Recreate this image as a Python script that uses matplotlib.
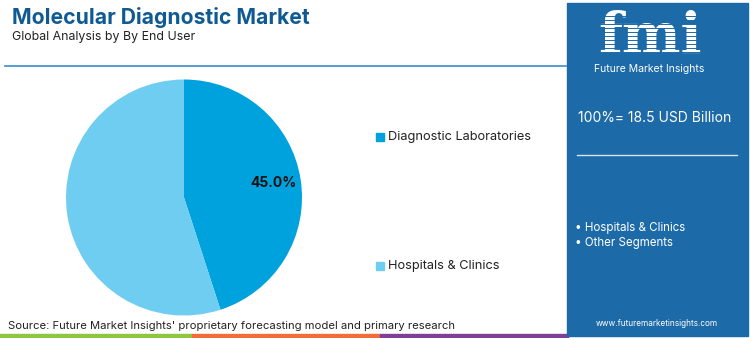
import matplotlib
matplotlib.use("Agg")
import matplotlib.pyplot as plt
from matplotlib.patches import Rectangle
from matplotlib.lines import Line2D

plt.rcParams['font.family'] = ['Inter', 'DejaVu Sans']

# data
segments = ['Diagnostic Laboratories', 'Hospitals & Clinics']
shares = [45.0, 55.0]
colors = ['#00a2dd', '#6fcdf1']
total_label = '100%= 18.5 USD Billion'
panel_items = ['Hospitals & Clinics', 'Other Segments']

W, H = 750, 338
fig = plt.figure(figsize=(7.5, 3.38), dpi=100)
fig.patch.set_facecolor('white')


def fx(x):
    return x / W


def fy(y):
    return 1 - y / H


# title block
fig.text(fx(12), fy(17), 'Molecular Diagnostic Market', fontsize=15.2, fontweight='bold',
         color='#0f5a93', va='center', ha='left')
fig.text(fx(12), fy(37), 'Global Analysis by By End User', fontsize=8.9, color='#222222',
         va='center', ha='left')
fig.add_artist(Line2D([fx(5), fx(566)], [fy(66), fy(66)], color='#3d8ccb', lw=1.2))

# pie
cx, cy, r = 184, 197.5, 118
ax = fig.add_axes([fx(cx - r), fy(cy + r), 2 * r / W, 2 * r / H])
wedges, texts, autotexts = ax.pie(shares, colors=colors, startangle=90, counterclock=False,
                                  autopct=lambda p: '%.1f%%' % p if p < 50 else '',
                                  pctdistance=0.77,
                                  textprops=dict(fontsize=10, fontweight='bold', color='#111111'))
ax.set_xlim(-1, 1)
ax.set_ylim(-1, 1)
ax.set_aspect('auto')

# legend
leg_y = [137, 266]
for name, c, y in zip(segments, colors, leg_y):
    fig.add_artist(Rectangle((fx(376), fy(y + 4)), 8 / W, 8 / H, color=c))
    fig.text(fx(388), fy(y), name, fontsize=9.2, color='#222222', va='center', ha='left')

# source and bottom stripe
fig.text(fx(8), fy(326), "Source: Future Market Insights' proprietary forecasting model and primary research",
         fontsize=8.1, color='#222222', va='center', ha='left')
for x0, x1, c in [(0, 192, '#8dc63f'), (192, 380, '#f26c3a'), (380, 568, '#7d3f97')]:
    fig.add_artist(Rectangle((fx(x0), 0), (x1 - x0) / W, 4 / H, color=c))

# right panel
fig.add_artist(Rectangle((fx(567), fy(336)), (748 - 567) / W, 333 / H, color='#1c6aa7'))
fig.text(fx(650), fy(37), 'fmi', fontsize=40, fontweight='bold', color='white',
         va='center', ha='center', family='DejaVu Serif')
for yy in range(16, 60, 4):
    fig.add_artist(Line2D([fx(590), fx(715)], [fy(yy), fy(yy)], color='#1c6aa7', lw=0.7,
                          zorder=5))
fig.text(fx(649), fy(69), 'Future Market Insights', fontsize=7.5, color='white',
         va='center', ha='center')
fig.text(fx(655), fy(118), total_label, fontsize=10, color='white', va='center', ha='center')
fig.add_artist(Line2D([fx(577), fx(737)], [fy(155), fy(155)], color='#d8e6f2', lw=1))
for i, item in enumerate(panel_items):
    fig.text(fx(575), fy(228 + 15 * i), '\u2022 ' + item, fontsize=8.3, color='white',
             va='center', ha='left')
fig.text(fx(657), fy(323), 'www.futuremarketinsights.com', fontsize=5.9, color='white',
         va='center', ha='center')

fig.savefig('out.png', dpi=100)
